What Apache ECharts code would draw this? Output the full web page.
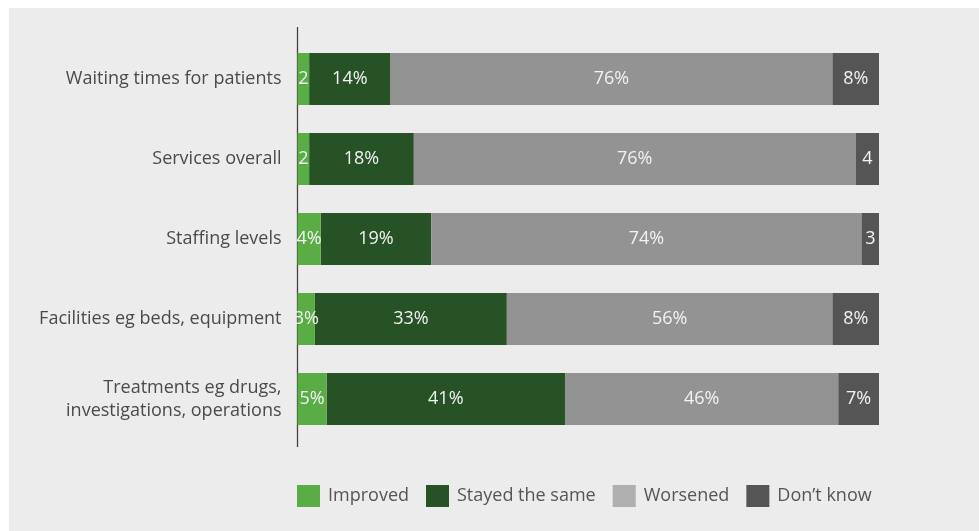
<!DOCTYPE html>
<html>
<head>
<meta charset="utf-8">
<script src="https://cdn.jsdelivr.net/npm/echarts@6/dist/echarts.min.js"></script>
<style>
  html, body { margin: 0; padding: 0; background: #ffffff; }
  #bg { position: absolute; left: 9px; top: 8px; width: 970px; height: 523px; background: #ececec; }
  #c { position: absolute; left: 0; top: 0; width: 979px; height: 531px; }
</style>
</head>
<body>
<div id="bg"></div>
<div id="c"></div>
<script>
const categories = [
  'Waiting times for patients',
  'Services overall',
  'Staffing levels',
  'Facilities eg beds, equipment',
  'Treatments eg drugs,\ninvestigations, operations'
];
const seriesNames = ['Improved', 'Stayed the same', 'Worsened', 'Don\u2019t know'];
const improved = [2, 2, 4, 3, 5];
const stayed = [14, 18, 19, 33, 41];
const worsened = [76, 76, 74, 56, 47];
const dontKnow = [8, 4, 3, 8, 7];
const improvedLabels = ['2', '2', '4%', '3%', '5%'];
const stayedLabels = ['14%', '18%', '19%', '33%', '41%'];
const worsenedLabels = ['76%', '76%', '74%', '56%', '46%'];
const dontKnowLabels = ['8%', '4', '3', '8%', '7%'];

const barColors = ['#5aad45', '#265226', '#939393', '#555555'];
const legendColors = ['#5aad45', '#265226', '#afafad', '#555555'];
const FONT = 'Open Sans';

const values = [improved, stayed, worsened, dontKnow];
const labels = [improvedLabels, stayedLabels, worsenedLabels, dontKnowLabels];

const chart = echarts.init(document.getElementById('c'));
chart.setOption({
  backgroundColor: 'transparent',
  animation: false,
  textStyle: { fontFamily: FONT },
  grid: { left: 297.5, right: 100, top: 39, height: 400, containLabel: false },
  legend: {
    left: 297, top: 485, padding: 0,
    itemWidth: 23, itemHeight: 22, itemGap: 17,
    icon: 'rect',
    textStyle: { fontFamily: FONT, fontSize: 18, color: '#555555', padding: [2, 0, 0, 3] },
    data: seriesNames.map((n, i) => ({ name: n, itemStyle: { color: legendColors[i] } }))
  },
  xAxis: {
    type: 'value', min: 0, max: 100, show: false
  },
  yAxis: {
    type: 'category', data: categories, inverse: true,
    axisLine: { show: false }, axisTick: { show: false },
    axisLabel: { margin: 16, fontFamily: FONT, fontSize: 18, color: '#4a4a4a', lineHeight: 23 }
  },
  graphic: [{
    type: 'line', shape: { x1: 297.5, y1: 27, x2: 297.5, y2: 447 },
    style: { stroke: '#444444', lineWidth: 1.3 }, z: 1
  }],
  series: seriesNames.map((n, i) => ({
    name: n, type: 'bar', stack: 'all', barWidth: 52,
    z: i === 0 ? 5 : 2,
    itemStyle: { color: barColors[i] },
    data: values[i],
    label: {
      show: true, position: 'inside', color: '#f2f2f2',
      fontFamily: FONT, fontSize: 18,
      formatter: p => labels[i][p.dataIndex]
    }
  }))
});
</script>
</body>
</html>
